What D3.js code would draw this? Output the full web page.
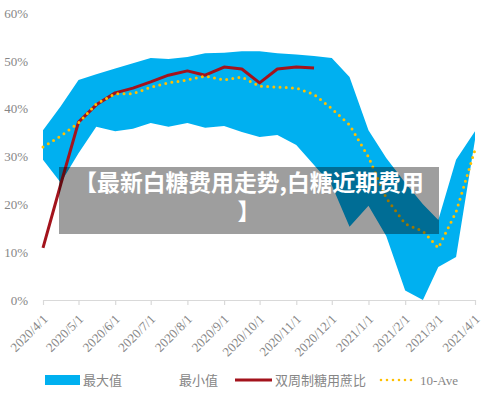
<!DOCTYPE html>
<html>
<head>
<meta charset="utf-8">
<script src="https://cdn.jsdelivr.net/npm/d3@7"></script>
<style>
  html, body { margin: 0; padding: 0; background: #fff; }
  svg { display: block; }
</style>
</head>
<body>
<svg id="chart" width="500" height="402"></svg>
<script>
// ---- data (semi-monthly points) ----
const dates = ["2020-04-01","2020-04-16","2020-05-01","2020-05-16","2020-06-01","2020-06-16",
  "2020-07-01","2020-07-16","2020-08-01","2020-08-16","2020-09-01","2020-09-16",
  "2020-10-01","2020-10-16","2020-11-01","2020-11-16","2020-12-01","2020-12-16",
  "2021-01-01","2021-01-16","2021-02-01","2021-02-16","2021-03-01","2021-03-16","2021-04-01"];
const maxValues = [35.5,40.5,46,47.2,48.4,49.5,50.6,50.4,50.8,51.6,51.7,52,52,51.6,51.3,51,50.6,46.6,35.5,29.7,24.5,20,16.7,29.3,35.3];
const minValues = [29.3,24.5,30.7,36.2,35.3,35.8,37,36.2,37,36,36.4,35.1,34.1,34.5,32.4,28.2,24,15.3,19.7,13.4,2,0,6.9,9,33.5];
const ratioValues = [10.9,24.2,37.2,40.8,43.3,44.3,45.6,47,47.9,47,48.7,48.3,45.4,48.3,48.7,48.5];
const aveValues = [32,34.3,37,41,43.1,43.1,44.5,45.4,46,46.8,46,46.6,44.7,44.5,44.3,43,40,36.6,29.9,21.3,15.9,14.4,10.9,18.4,31.4];
const yTicks = [0,10,20,30,40,50,60];
const xTicks = ["2020-04-01","2020-05-01","2020-06-01","2020-07-01","2020-08-01","2020-09-01",
  "2020-10-01","2020-11-01","2020-12-01","2021-01-01","2021-02-01","2021-03-01","2021-04-01"];
const legendLabels = ["最大值","最小值","双周制糖用蔗比","10-Ave"];
const titleLines = ["【最新白糖费用走势,白糖近期费用","】"];

// ---- setup ----
const parse = d3.timeParse("%Y-%m-%d");
const svg = d3.select("#chart");
const latin = "'Liberation Serif', 'Times New Roman', 'Noto Sans CJK SC', serif";
const labelColor = "#868686";
const BLUE = "#00B0F0", RED = "#A3131C", GOLD = "#FFC000";

const x = d3.scaleTime().domain([parse("2020-04-01"), parse("2021-04-01")]).range([43, 475]);
const y = d3.scaleLinear().domain([0, 60]).range([300, 13]);

const rows = dates.map((d, i) => ({
  date: parse(d), max: maxValues[i], min: minValues[i],
  ratio: i < ratioValues.length ? ratioValues[i] : null, ave: aveValues[i]
}));

// band between min and max
svg.append("path")
  .datum(rows)
  .attr("fill", BLUE)
  .attr("d", d3.area().x(d => x(d.date)).y0(d => y(d.min)).y1(d => y(d.max)));

// y axis
const yAxis = svg.append("g")
  .attr("transform", "translate(43,0)")
  .call(d3.axisLeft(y).tickValues(yTicks).tickFormat(d => d + "%").tickSize(0).tickPadding(15));
yAxis.select(".domain").remove();
yAxis.selectAll("text").attr("font-family", latin).attr("font-size", 13).attr("fill", labelColor);

// x axis
const xAxis = svg.append("g")
  .attr("transform", "translate(0,300)")
  .call(d3.axisBottom(x).tickValues(xTicks.map(parse)).tickFormat(d3.timeFormat("%Y/%-m/%-d"))
    .tickSize(5).tickSizeOuter(0));
xAxis.select(".domain").attr("stroke", "#d9d9d9").attr("stroke-width", 1.2);
xAxis.selectAll(".tick line").attr("stroke", "#d9d9d9").attr("stroke-width", 1.2);
xAxis.selectAll("text")
  .attr("font-family", latin).attr("font-size", 13).attr("fill", labelColor)
  .attr("text-anchor", "end")
  .attr("dy", null).attr("y", null)
  .attr("transform", "translate(5,20) rotate(-45)");

// red ratio line
svg.append("path")
  .datum(rows.filter(d => d.ratio !== null))
  .attr("fill", "none").attr("stroke", RED).attr("stroke-width", 3)
  .attr("stroke-linejoin", "round")
  .attr("d", d3.line().x(d => x(d.date)).y(d => y(d.ratio)));

// dotted 10-Ave line
svg.append("path")
  .datum(rows)
  .attr("fill", "none").attr("stroke", GOLD).attr("stroke-width", 3)
  .attr("stroke-linecap", "round").attr("stroke-dasharray", "0 6.2")
  .attr("d", d3.line().x(d => x(d.date)).y(d => y(d.ave)));

// legend
const lg = svg.append("g").attr("font-family", latin).attr("font-size", 13).attr("fill", labelColor);
lg.append("rect").attr("x", 45).attr("y", 375).attr("width", 35).attr("height", 10).attr("fill", BLUE);
lg.append("text").attr("x", 83).attr("y", 385).text(legendLabels[0]);
lg.append("text").attr("x", 179).attr("y", 385).text(legendLabels[1]);
lg.append("line").attr("x1", 235).attr("x2", 272).attr("y1", 380).attr("y2", 380)
  .attr("stroke", RED).attr("stroke-width", 3);
lg.append("text").attr("x", 275).attr("y", 385).text(legendLabels[2]);
lg.append("line").attr("x1", 381).attr("x2", 417).attr("y1", 380).attr("y2", 380)
  .attr("stroke", GOLD).attr("stroke-width", 2.6).attr("stroke-linecap", "round").attr("stroke-dasharray", "0 6");
lg.append("text").attr("x", 420).attr("y", 385).text(legendLabels[3]);

// overlay title box
svg.append("rect").attr("x", 59).attr("y", 167).attr("width", 380).attr("height", 67)
  .attr("fill", "rgba(0,0,0,0.38)");
svg.append("g").selectAll("text").data(titleLines).join("text")
  .attr("x", 249).attr("y", (d, i) => 191 + i * 29)
  .attr("text-anchor", "middle")
  .attr("font-family", "'Noto Sans CJK SC', sans-serif")
  .attr("font-weight", "bold").attr("font-size", 22.8).attr("fill", "#fff")
  .text(d => d);
</script>
</body>
</html>
